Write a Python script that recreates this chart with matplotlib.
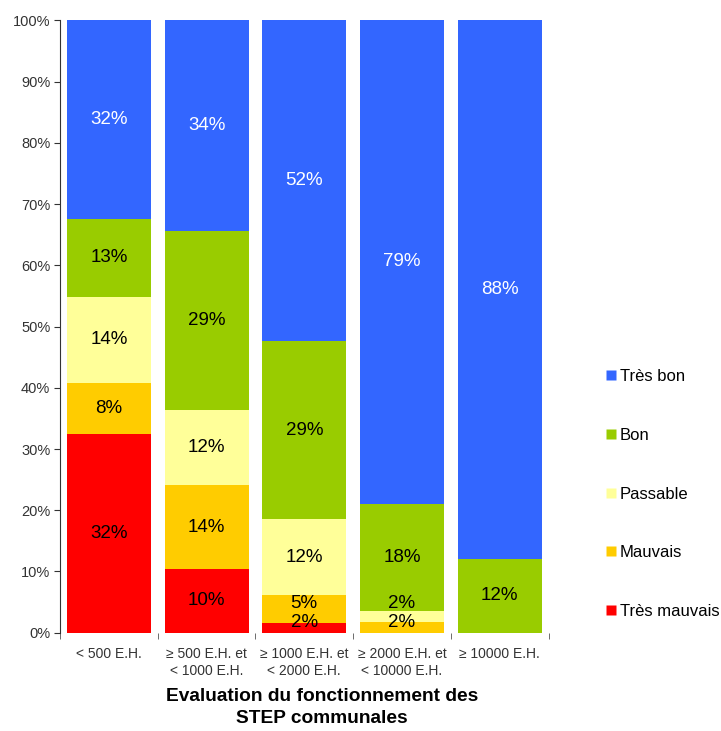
import matplotlib

matplotlib.use("Agg")
import matplotlib.pyplot as plt
from matplotlib.lines import Line2D
import numpy as np

plt.rcParams["font.family"] = ["Liberation Sans", "DejaVu Sans"]

categories = [
    "< 500 E.H.",
    "≥ 500 E.H. et\n< 1000 E.H.",
    "≥ 1000 E.H. et\n< 2000 E.H.",
    "≥ 2000 E.H. et\n< 10000 E.H.",
    "≥ 10000 E.H.",
]
levels = ["Très mauvais", "Mauvais", "Passable", "Bon", "Très bon"]
colors = ["#ff0000", "#ffcc00", "#ffff99", "#99cc00", "#3366ff"]
text_colors = ["black", "black", "black", "black", "white"]

# percentages per level (rows) and category (columns)
tres_mauvais = [32.4, 10.4, 1.6, 0.0, 0.0]
mauvais = [8.4, 13.7, 4.6, 1.8, 0.0]
passable = [14.1, 12.2, 12.3, 1.7, 0.0]
bon = [12.7, 29.3, 29.2, 17.6, 12.0]
tres_bon = [32.4, 34.4, 52.3, 78.9, 88.0]
series = [tres_mauvais, mauvais, passable, bon, tres_bon]

fig = plt.figure(figsize=(7.21, 7.31), dpi=100, facecolor="white")
ax = fig.add_axes([0.0832, 0.1345, 0.6776, 0.8375])

x = np.arange(len(categories))
bottom = np.zeros(len(categories))
label_prev = np.full(len(categories), -10.0)
for vals, col, tcol, name in zip(series, colors, text_colors, levels):
    vals = np.array(vals)
    ax.bar(x, vals, bottom=bottom, width=0.86, color=col, label=name,
           edgecolor="none", zorder=2)
    for i, v in enumerate(vals):
        if v <= 0:
            continue
        ypos = max(bottom[i] + v / 2, 1.7, label_prev[i] + 3.0)
        label_prev[i] = ypos
        ax.text(x[i], ypos, f"{v:.0f}%", ha="center", va="center",
                fontsize=13.5, color=tcol, zorder=3)
    bottom += vals

ax.set_xlim(-0.5, len(categories) - 0.5)
ax.set_ylim(0, 100)
ax.set_yticks(np.arange(0, 101, 10))
ax.set_yticklabels([f"{t}%" for t in range(0, 101, 10)], fontsize=10.5,
                   color="#333333")
ax.set_xticks(x)
ax.set_xticklabels(categories, fontsize=10, color="#333333", linespacing=1.3)
ax.set_xticks(np.arange(-0.5, len(categories)), minor=True)
ax.tick_params(axis="x", which="major", length=0, pad=10)
ax.tick_params(axis="x", which="minor", length=4, color="#555555")
ax.tick_params(axis="y", length=4, color="#333333", pad=3)
for side in ["top", "right", "bottom"]:
    ax.spines[side].set_visible(False)
ax.spines["left"].set_color("#333333")

handles = [
    Line2D([], [], marker="s", linestyle="none", markersize=7,
           markerfacecolor=c, markeredgecolor="none", label=n)
    for n, c in zip(levels, colors)
][::-1]
fig.legend(handles=handles, loc="center left", bbox_to_anchor=(0.839, 0.324),
           frameon=False, fontsize=12, handlelength=0.7, handletextpad=0.2,
           labelspacing=2.62, borderpad=0, borderaxespad=0)

fig.text(322 / 721, 0.006, "Evaluation du fonctionnement des\nSTEP communales",
         ha="center", va="bottom", fontsize=13.8, fontweight="bold",
         linespacing=1.35)

fig.savefig("out.png", dpi=100, facecolor="white")
